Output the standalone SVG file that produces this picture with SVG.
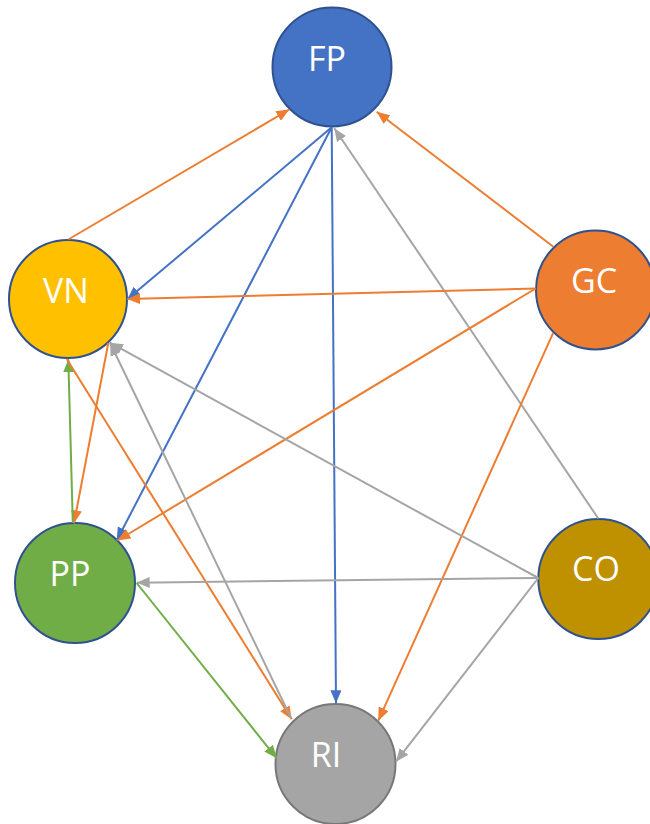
<svg xmlns="http://www.w3.org/2000/svg" width="650" height="824" viewBox="0 0 650 824">
<style>
.node circle{stroke:#2F528F;stroke-width:2}
.node text{font-family:"Open Sans","Noto Sans","DejaVu Sans",sans-serif;font-size:34px;fill:#FFFFFF;text-anchor:middle}
.e{fill:none;stroke-width:2}
.o{stroke:#ED7D31;marker-end:url(#mo)}
.b{stroke:#4472C4;marker-end:url(#mb)}
.g{stroke:#A5A5A5;marker-end:url(#mg)}
.n{stroke:#70AD47;marker-end:url(#mn)}
</style>
<defs>
<marker id="mo" viewBox="0 0 13 11" refX="13" refY="5.5" markerWidth="13" markerHeight="11" markerUnits="userSpaceOnUse" orient="auto"><path d="M0,0L13,5.5L0,11z" fill="#ED7D31"/></marker>
<marker id="mb" viewBox="0 0 13 11" refX="13" refY="5.5" markerWidth="13" markerHeight="11" markerUnits="userSpaceOnUse" orient="auto"><path d="M0,0L13,5.5L0,11z" fill="#4472C4"/></marker>
<marker id="mg" viewBox="0 0 13 11" refX="13" refY="5.5" markerWidth="13" markerHeight="11" markerUnits="userSpaceOnUse" orient="auto"><path d="M0,0L13,5.5L0,11z" fill="#A5A5A5"/></marker>
<marker id="mn" viewBox="0 0 13 11" refX="13" refY="5.5" markerWidth="13" markerHeight="11" markerUnits="userSpaceOnUse" orient="auto"><path d="M0,0L13,5.5L0,11z" fill="#70AD47"/></marker>
</defs>
<rect width="650" height="824" fill="#FFFFFF"/>
<g id="FP" class="node"><circle cx="332" cy="67" r="59.5" fill="#4472C4"/><text x="327" y="71">FP</text></g>
<g id="VN" class="node"><circle cx="68" cy="299" r="59" fill="#FFC000"/><text x="66" y="303">VN</text></g>
<g id="GC" class="node"><circle cx="595.5" cy="290" r="59.5" fill="#ED7D31"/><text x="594" y="293">GC</text></g>
<g id="PP" class="node"><circle cx="75" cy="583" r="60" fill="#70AD47"/><text x="70" y="586">PP</text></g>
<g id="CO" class="node"><circle cx="598.3" cy="579" r="60" fill="#BF9000"/><text x="596" y="581">CO</text></g>
<g id="RI" class="node"><circle cx="335.5" cy="764" r="60" fill="#A5A5A5" style="stroke:#787878"/><text x="326" y="767">RI</text></g>
<g id="connectors">
<line class="e o" x1="68.3" y1="239.5" x2="289.3" y2="109.5"/>
<line class="e o" x1="553.3" y1="246.7" x2="376.7" y2="111.7"/>
<line class="e b" x1="331.7" y1="127.3" x2="127.3" y2="299.3"/>
<line class="e b" x1="331.7" y1="127.3" x2="116.7" y2="540.5"/>
<line class="e b" x1="331.7" y1="127.3" x2="336" y2="703.3"/>
<line class="e g" x1="598.3" y1="518.5" x2="334.3" y2="128.3"/>
<line class="e o" x1="535.7" y1="288.5" x2="127.3" y2="299"/>
<line class="e o" x1="535.7" y1="288.5" x2="117.5" y2="540.5"/>
<line class="e o" x1="553.3" y1="332.7" x2="378.3" y2="720.7"/>
<line class="e o" x1="108.3" y1="343" x2="74" y2="523.3"/>
<line class="e n" x1="72.8" y1="523" x2="68.3" y2="359.3"/>
<line class="e o" x1="66.7" y1="359" x2="291.7" y2="719.3"/>
<line class="e g" x1="291" y1="718" x2="110" y2="342.7"/>
<line class="e g" x1="538.3" y1="578" x2="110" y2="342.7"/>
<line class="e g" x1="538.3" y1="578" x2="136.7" y2="582.7"/>
<line class="e g" x1="538.3" y1="578" x2="396" y2="761.7"/>
<line class="e n" x1="136.7" y1="583" x2="276.7" y2="758.3"/>
</g>
</svg>
